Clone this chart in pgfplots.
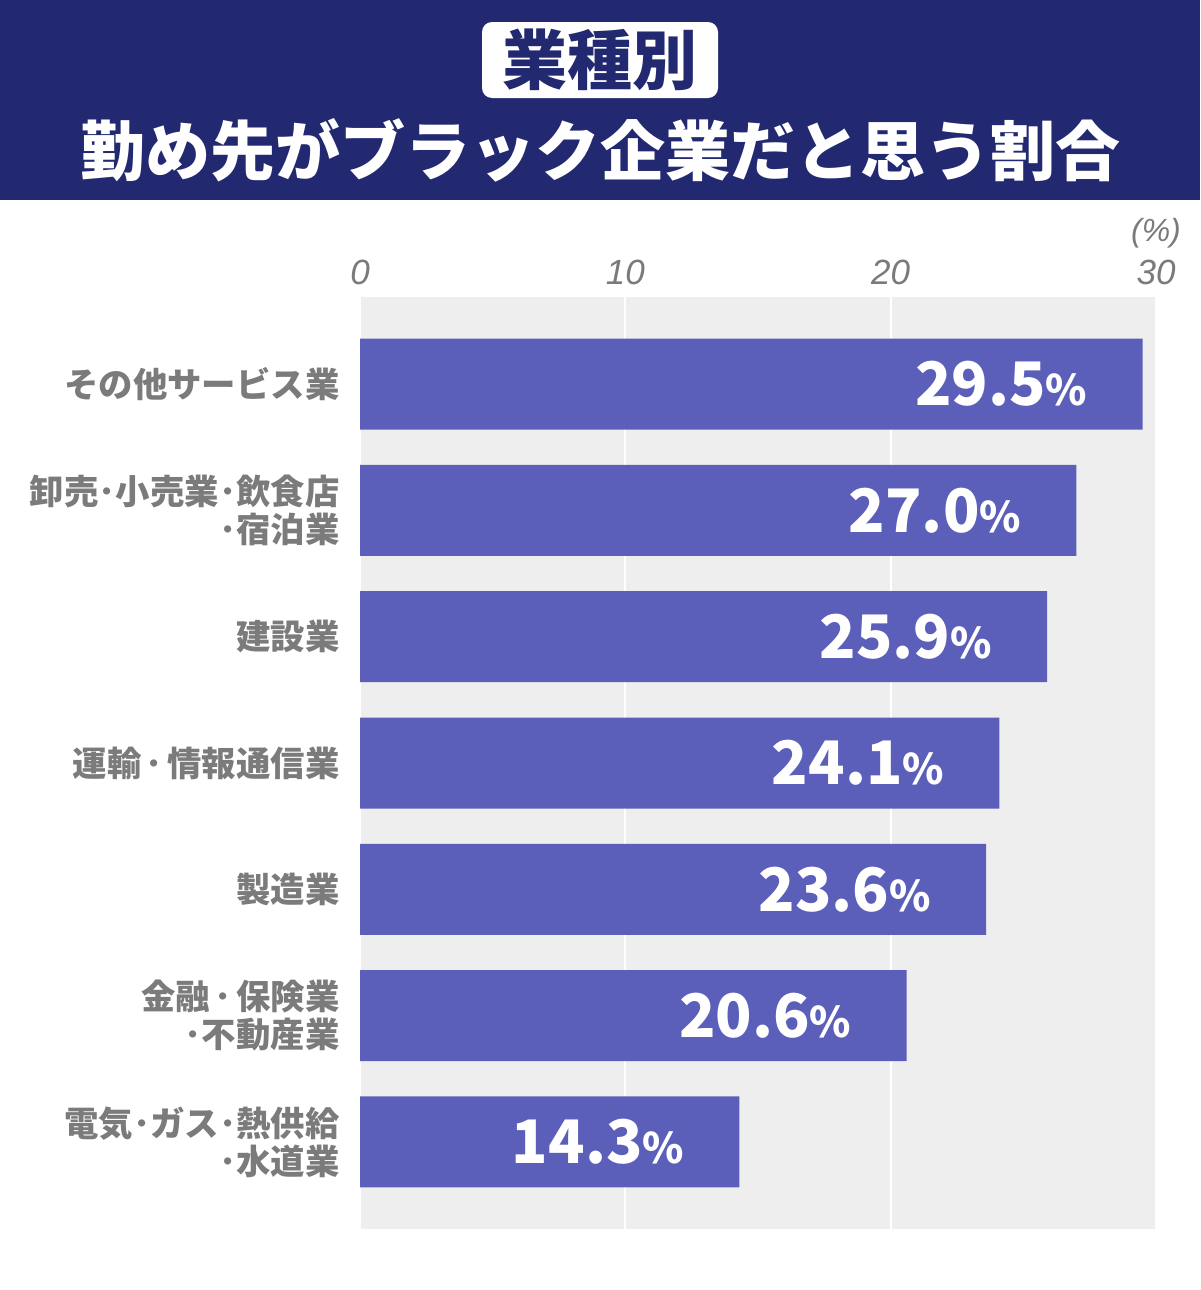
\documentclass[border=0pt]{standalone}
\usepackage{fontspec}
\usepackage{pgfplots}
\pgfplotsset{compat=1.18}
\setmainfont{Liberation Sans}
\newfontfamily\jp{Noto Sans CJK JP}
\definecolor{navy}{HTML}{222970}
\definecolor{barblue}{HTML}{5B5FB9}
\definecolor{panel}{HTML}{EEEEEE}
\definecolor{labgray}{HTML}{7B7B7B}
\definecolor{tickgray}{HTML}{7A7A7A}
% spaced half-width middle dot
\newcommand{\sdot}{\hspace{2.2pt}･\hspace{2.2pt}}

\begin{document}
\begin{tikzpicture}
\useasboundingbox (0,0) rectangle (600pt,-645pt);
\fill[white] (0,0) rectangle (600pt,-645pt);
% header band
\fill[navy] (0,0) rectangle (600pt,-100pt);
\fill[white, rounded corners=5pt] (241pt,-11pt) rectangle (359pt,-49pt);
\node[text=navy, font=\jp\bfseries\fontsize{32.5}{36}\selectfont, inner sep=0pt] at (300pt,-30pt) {業種別};
\node[text=white, font=\jp\bfseries\fontsize{32.5}{36}\selectfont, inner sep=0pt] at (300pt,-75pt) {勤め先がブラック企業だと思う割合};

\begin{axis}[
  at={(180pt,-148.5pt)}, anchor=north west,
  scale only axis, width=398pt, height=466pt,
  xmin=0, xmax=30, ymin=-0.69, ymax=6.69, y dir=reverse,
  axis background/.style={fill=panel},
  axis line style={draw=none},
  major tick length=0pt,
  xtick={0,10,20,30}, xticklabel pos=upper,
  xmajorgrids, grid style={white, line width=1pt},
  ytick={0,1,2,3,4,5,6},
  yticklabels={その他サービス業, {卸売･小売業･飲食店\\･宿泊業}, 建設業, 運輸\sdot 情報通信業, 製造業, {金融\sdot 保険業\\･不動産業}, {電気･ガス･熱供給\\･水道業}},
  yticklabel style={font=\jp\bfseries\fontsize{17.2}{19}\selectfont, text=labgray, align=right, inner sep=0pt, anchor=east, xshift=-10pt},
  xticklabel style={font=\itshape\fontsize{17.5}{20}\selectfont, text=tickgray, inner sep=0pt, anchor=base, yshift=6.25pt},
  /pgf/number format/assume math mode=true,
  xbar, bar width=45.5pt,
  point meta=x,
  nodes near coords={\pgfmathprintnumber[fixed,fixed zerofill,precision=1]{\pgfplotspointmeta}{\fontsize{21}{21}\selectfont\%}},
  every node near coord/.append style={font=\jp\bfseries\fontsize{30}{30}\selectfont, text=white, anchor=east, xshift=-27.5pt, inner sep=0pt},
  clip=false,
]
\addplot[fill=barblue, draw=none] coordinates {(29.5,0) (27.0,1) (25.9,2) (24.1,3) (23.6,4) (20.6,5) (14.3,6)};
\end{axis}
\node[text=tickgray, font=\itshape\fontsize{16}{18}\selectfont, inner sep=0pt] at (578pt,-116.5pt) {(\%)};
\end{tikzpicture}
\end{document}
